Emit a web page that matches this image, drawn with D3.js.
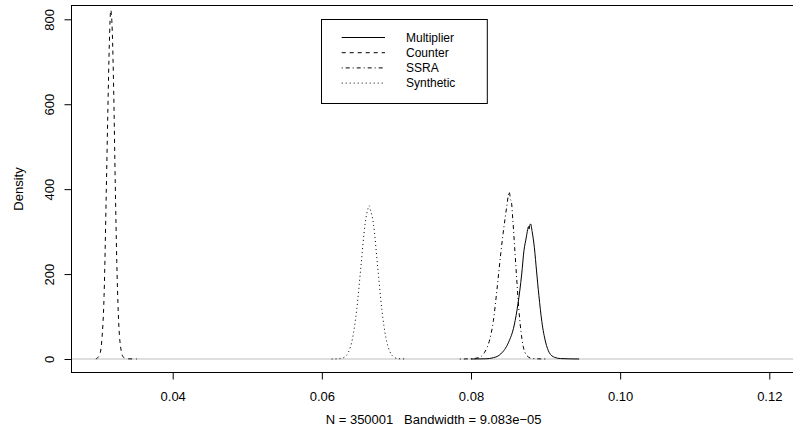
<!DOCTYPE html>
<html>
<head>
<meta charset="utf-8">
<script src="https://cdn.jsdelivr.net/npm/d3@7"></script>
<style>
  html, body { margin: 0; padding: 0; background: #ffffff; }
  svg { display: block; }
  text { font-family: "Liberation Sans", Arial, Helvetica, sans-serif; fill: #000; white-space: pre; }
</style>
</head>
<body>
<svg id="chart" width="793" height="437"></svg>
<script>
// ---- data ----
const xTicks = [0.04, 0.06, 0.08, 0.10, 0.12];
const xTickLabels = ["0.04", "0.06", "0.08", "0.10", "0.12"];
const yTicks = [0, 200, 400, 600, 800];
const yTickLabels = ["0", "200", "400", "600", "800"];
const seriesNames = ["Multiplier", "Counter", "SSRA", "Synthetic"];
const yLabel = "Density";
const subtitle = "N = 350001   Bandwidth = 9.083e\u221205";

const multiplierX = [0.0800, 0.0820, 0.0830, 0.0840, 0.0850, 0.0858, 0.0863, 0.0868, 0.0871, 0.0874, 0.0876, 0.0877, 0.0878, 0.0879, 0.0880, 0.0882, 0.0885, 0.0888, 0.0891, 0.0895, 0.0900, 0.0905, 0.0912, 0.0920, 0.0945];
const multiplierY = [0, 0.5, 3, 12, 38, 80, 130, 200, 255, 285, 305, 312, 306, 316, 318, 300, 262, 205, 150, 88, 40, 15, 4, 1, 0];

const counterX = [0.0297, 0.0298, 0.0302, 0.0305, 0.0308, 0.0311, 0.0313, 0.0315, 0.0317, 0.0319, 0.0321, 0.0323, 0.0325, 0.0327, 0.0330, 0.0334, 0.0340, 0.0352];
const counterY = [0, 1, 10, 45, 150, 400, 580, 740, 822, 770, 620, 410, 230, 110, 30, 4, 0.5, 0];

const ssraX = [0.0785, 0.0800, 0.0810, 0.0818, 0.0825, 0.0830, 0.0834, 0.0837, 0.0840, 0.0843, 0.0846, 0.0848, 0.0850, 0.0851, 0.0852, 0.0853, 0.0854, 0.0856, 0.0859, 0.0861, 0.0864, 0.0867, 0.0870, 0.0875, 0.0882, 0.0900];
const ssraY = [0, 0.5, 3, 15, 45, 90, 150, 200, 250, 295, 335, 360, 385, 394, 388, 375, 372, 330, 250, 197, 120, 65, 30, 8, 1, 0];

const syntheticX = [0.0613, 0.06244, 0.0630, 0.06356, 0.06412, 0.06468, 0.06524, 0.0658, 0.0662, 0.06636, 0.0665, 0.06692, 0.06748, 0.06804, 0.0686, 0.06916, 0.06972, 0.07028, 0.0714];
const syntheticY = [0, 0.8, 4, 16, 49, 117, 218, 318, 355, 361, 352, 318, 218, 117, 49, 16, 4, 0.8, 0];

const seriesX = [multiplierX, counterX, ssraX, syntheticX];
const seriesY = [multiplierY, counterY, ssraY, syntheticY];
const seriesDash = [null, "4,4", "1,3,4,3", "1,3"];

// ---- layout ----
const svg = d3.select("#chart");
const plot = { left: 71.5, top: 5.5, right: 796, bottom: 372.5 };

const x = d3.scaleLinear().domain([0.04, 0.12]).range([172.7, 769.3]);
const y = d3.scaleLinear().domain([0, 800]).range([359, 19.3]);

svg.append("defs").append("clipPath").attr("id", "clip")
  .append("rect")
  .attr("x", plot.left).attr("y", plot.top)
  .attr("width", plot.right - plot.left).attr("height", plot.bottom - plot.top);

// zero line
svg.append("line")
  .attr("x1", plot.left).attr("x2", plot.right)
  .attr("y1", y(0)).attr("y2", y(0))
  .attr("stroke", "#bebebe").attr("stroke-width", 1);

// curves
const line = d3.line()
  .x(d => x(d[0]))
  .y(d => y(d[1]))
  .curve(d3.curveMonotoneX);

const gCurves = svg.append("g").attr("clip-path", "url(#clip)");
seriesNames.forEach((name, i) => {
  const pts = seriesX[i].map((v, j) => [v, seriesY[i][j]]);
  gCurves.append("path")
    .attr("d", line(pts))
    .attr("fill", "none")
    .attr("stroke", "#000")
    .attr("stroke-width", 1)
    .attr("stroke-dasharray", seriesDash[i]);
});

// box
svg.append("rect")
  .attr("x", plot.left).attr("y", plot.top)
  .attr("width", plot.right - plot.left).attr("height", plot.bottom - plot.top)
  .attr("fill", "none").attr("stroke", "#000").attr("stroke-width", 1);

// x axis
const xAxis = d3.axisBottom(x)
  .tickValues(xTicks)
  .tickFormat((d, i) => xTickLabels[i])
  .tickSize(7)
  .tickPadding(12);
const gx = svg.append("g")
  .attr("transform", `translate(0,${plot.bottom})`)
  .call(xAxis);
gx.select(".domain").remove();
gx.selectAll(".tick line").attr("stroke", "#000");
gx.selectAll(".tick text")
  .attr("font-size", 13)
  .attr("font-family", "Liberation Sans, Arial, sans-serif")
  .attr("fill", "#000");

// y axis
const yAxis = d3.axisLeft(y)
  .tickValues(yTicks)
  .tickFormat((d, i) => yTickLabels[i])
  .tickSize(7);
const gy = svg.append("g")
  .attr("transform", `translate(${plot.left},0)`)
  .call(yAxis);
gy.select(".domain").remove();
gy.selectAll(".tick line").attr("stroke", "#000");
gy.selectAll(".tick text")
  .attr("font-size", 13)
  .attr("font-family", "Liberation Sans, Arial, sans-serif")
  .attr("fill", "#000")
  .attr("x", null).attr("dy", null)
  .attr("text-anchor", "middle")
  .attr("transform", "translate(-18,0) rotate(-90)");

// axis titles
svg.append("text")
  .attr("transform", `translate(23.3,${(plot.top + plot.bottom) / 2}) rotate(-90)`)
  .attr("text-anchor", "middle")
  .attr("font-size", 13)
  .text(yLabel);

svg.append("text")
  .attr("x", 433.6).attr("y", 424)
  .attr("text-anchor", "middle")
  .attr("font-size", 13)
  .attr("xml:space", "preserve")
  .text(subtitle);

// legend
const leg = svg.append("g");
leg.append("rect")
  .attr("x", 321.5).attr("y", 19.5)
  .attr("width", 165.8).attr("height", 84)
  .attr("fill", "#fff").attr("stroke", "#000").attr("stroke-width", 1);
seriesNames.forEach((name, i) => {
  const yy = 37.5 + i * 15.2;
  leg.append("line")
    .attr("x1", 341.7).attr("x2", 385)
    .attr("y1", yy).attr("y2", yy)
    .attr("stroke", "#000").attr("stroke-width", 1)
    .attr("stroke-dasharray", seriesDash[i]);
  leg.append("text")
    .attr("x", 406).attr("y", yy)
    .attr("dy", "0.35em")
    .attr("font-size", 12)
    .text(name);
});
</script>
</body>
</html>
